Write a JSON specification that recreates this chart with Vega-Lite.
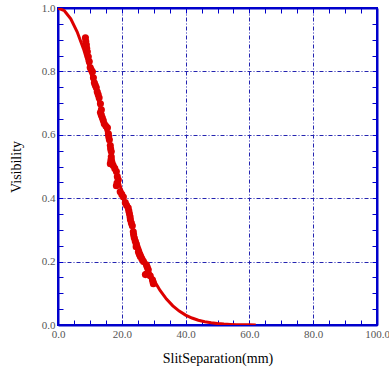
{
  "$schema": "https://vega.github.io/schema/vega-lite/v6.json",
  "width": 319,
  "height": 317,
  "autosize": {"type": "none"},
  "padding": {"left": 58, "top": 8, "right": 12, "bottom": 48},
  "background": "white",
  "config": {
    "view": {"stroke": "#0000cc", "strokeWidth": 2},
    "axis": {
      "domainColor": "#0000cc",
      "domainWidth": 2,
      "tickColor": "#0000cc",
      "tickWidth": 1,
      "labelColor": "#555555",
      "labelFont": "Liberation Serif",
      "labelFontSize": 11,
      "titleFont": "Liberation Serif",
      "titleFontSize": 14,
      "titleFontWeight": "normal",
      "titleColor": "#000000"
    }
  },
  "datasets": {
    "curve": [
      {"x": 0, "v": 1.0}, {"x": 2, "v": 0.9914}, {"x": 4, "v": 0.966}, {"x": 6, "v": 0.925},
      {"x": 8, "v": 0.871}, {"x": 10, "v": 0.805}, {"x": 12, "v": 0.732}, {"x": 14, "v": 0.654},
      {"x": 16, "v": 0.575}, {"x": 18, "v": 0.496}, {"x": 20, "v": 0.421}, {"x": 22, "v": 0.351},
      {"x": 24, "v": 0.287}, {"x": 26, "v": 0.2315}, {"x": 28, "v": 0.183}, {"x": 30, "v": 0.1426},
      {"x": 32, "v": 0.109}, {"x": 34, "v": 0.0819}, {"x": 36, "v": 0.0605}, {"x": 38, "v": 0.0439},
      {"x": 40, "v": 0.0313}, {"x": 42, "v": 0.022}, {"x": 44, "v": 0.0151}, {"x": 46, "v": 0.0102},
      {"x": 48, "v": 0.0068}, {"x": 50, "v": 0.0045}, {"x": 52, "v": 0.0029}, {"x": 54, "v": 0.0018},
      {"x": 56, "v": 0.0011}, {"x": 58, "v": 0.0007}, {"x": 60, "v": 0.0004}, {"x": 62, "v": 0.0002}
    ],
    "obs": [
      {"x": 8.6, "v": 0.906}, {"x": 8.7, "v": 0.895}, {"x": 8.9, "v": 0.884}, {"x": 9.0, "v": 0.873}, {"x": 9.2, "v": 0.862},
      {"x": 9.5, "v": 0.846}, {"x": 9.8, "v": 0.831}, {"x": 10.1, "v": 0.812}, {"x": 10.4, "v": 0.805},
      {"x": 10.8, "v": 0.799}, {"x": 11.1, "v": 0.78}, {"x": 11.4, "v": 0.764}, {"x": 11.7, "v": 0.756},
      {"x": 12.0, "v": 0.749}, {"x": 12.3, "v": 0.736}, {"x": 12.6, "v": 0.727}, {"x": 12.9, "v": 0.717},
      {"x": 13.3, "v": 0.698}, {"x": 13.6, "v": 0.679}, {"x": 13.3, "v": 0.67}, {"x": 13.6, "v": 0.662},
      {"x": 13.9, "v": 0.654}, {"x": 14.2, "v": 0.645}, {"x": 14.5, "v": 0.635}, {"x": 15.0, "v": 0.628},
      {"x": 15.5, "v": 0.622}, {"x": 15.8, "v": 0.603}, {"x": 15.9, "v": 0.594}, {"x": 16.1, "v": 0.584},
      {"x": 16.4, "v": 0.566}, {"x": 16.5, "v": 0.556}, {"x": 16.7, "v": 0.547}, {"x": 16.7, "v": 0.531},
      {"x": 16.6, "v": 0.52}, {"x": 16.4, "v": 0.509}, {"x": 17.3, "v": 0.503}, {"x": 17.8, "v": 0.494},
      {"x": 18.3, "v": 0.484}, {"x": 18.6, "v": 0.468}, {"x": 18.9, "v": 0.458}, {"x": 18.5, "v": 0.448},
      {"x": 18.3, "v": 0.439}, {"x": 19.5, "v": 0.42}, {"x": 20.0, "v": 0.412}, {"x": 20.5, "v": 0.404},
      {"x": 21.1, "v": 0.386}, {"x": 21.5, "v": 0.378}, {"x": 22.0, "v": 0.37}, {"x": 22.2, "v": 0.36},
      {"x": 22.4, "v": 0.351}, {"x": 22.6, "v": 0.341}, {"x": 22.7, "v": 0.332}, {"x": 23.0, "v": 0.322},
      {"x": 23.3, "v": 0.313}, {"x": 23.6, "v": 0.294}, {"x": 23.7, "v": 0.285}, {"x": 23.9, "v": 0.275},
      {"x": 24.2, "v": 0.265}, {"x": 24.5, "v": 0.256}, {"x": 24.5, "v": 0.247}, {"x": 25.2, "v": 0.231},
      {"x": 25.5, "v": 0.223}, {"x": 25.8, "v": 0.216}, {"x": 26.3, "v": 0.208}, {"x": 26.8, "v": 0.2},
      {"x": 27.7, "v": 0.19}, {"x": 28.0, "v": 0.182}, {"x": 28.3, "v": 0.174}, {"x": 27.4, "v": 0.159},
      {"x": 27.9, "v": 0.162}, {"x": 28.9, "v": 0.155}, {"x": 29.6, "v": 0.143}, {"x": 29.8, "v": 0.136},
      {"x": 29.9, "v": 0.13}
    ]
  },
  "layer": [
    {
      "data": {"name": "curve"},
      "mark": {"type": "line", "color": "#dd0000", "strokeWidth": 3, "clip": true},
      "encoding": {
        "x": {
          "field": "x", "type": "quantitative",
          "scale": {"domain": [0, 100], "nice": false, "zero": false},
          "axis": {
            "orient": "bottom",
            "title": "SlitSeparation(mm)",
            "values": [0,5,10,15,20,25,30,35,40,45,50,55,60,65,70,75,80,85,90,95,100],
            "labelExpr": "datum.value % 20 == 0 ? format(datum.value, '.1f') : ''",
            "labelFlush": false,
            "labelOverlap": false,
            "labelPadding": 8,
            "tickSize": -5,
            "grid": true,
            "gridColor": "#2323b0",
            "gridDash": [4, 2, 1, 2],
            "gridOpacity": {"condition": {"test": "datum.value % 20 == 0 && datum.value > 0 && datum.value < 100", "value": 1}, "value": 0},
            "titlePadding": 12
          }
        },
        "y": {
          "field": "v", "type": "quantitative",
          "scale": {"domain": [0, 1], "nice": false, "zero": false},
          "axis": {
            "orient": "left",
            "title": "Visibility",
            "values": [0,0.05,0.1,0.15,0.2,0.25,0.3,0.35,0.4,0.45,0.5,0.55,0.6,0.65,0.7,0.75,0.8,0.85,0.9,0.95,1.0],
            "labelExpr": "abs(datum.value*5 - round(datum.value*5)) < 0.000001 ? format(datum.value, '.1f') : ''",
            "labelFlush": false,
            "labelOverlap": false,
            "labelPadding": 8,
            "tickSize": -5,
            "grid": true,
            "gridColor": "#2323b0",
            "gridDash": [4, 2, 1, 2],
            "gridOpacity": {"condition": {"test": "abs(datum.value*5 - round(datum.value*5)) < 0.000001 && datum.value > 0.01 && datum.value < 0.99", "value": 1}, "value": 0},
            "titlePadding": 18
          }
        }
      }
    },
    {
      "data": {"name": "obs"},
      "mark": {"type": "circle", "color": "#dd0000", "opacity": 1, "size": 50},
      "encoding": {
        "x": {
          "field": "x", "type": "quantitative",
          "axis": {
            "orient": "top",
            "title": null,
            "values": [0,5,10,15,20,25,30,35,40,45,50,55,60,65,70,75,80,85,90,95,100],
            "labels": false,
            "tickSize": -5,
            "grid": false
          }
        },
        "y": {
          "field": "v", "type": "quantitative",
          "axis": {
            "orient": "right",
            "title": null,
            "values": [0,0.05,0.1,0.15,0.2,0.25,0.3,0.35,0.4,0.45,0.5,0.55,0.6,0.65,0.7,0.75,0.8,0.85,0.9,0.95,1.0],
            "labels": false,
            "tickSize": -5,
            "grid": false
          }
        }
      }
    }
  ],
  "resolve": {"axis": {"x": "independent", "y": "independent"}}
}
